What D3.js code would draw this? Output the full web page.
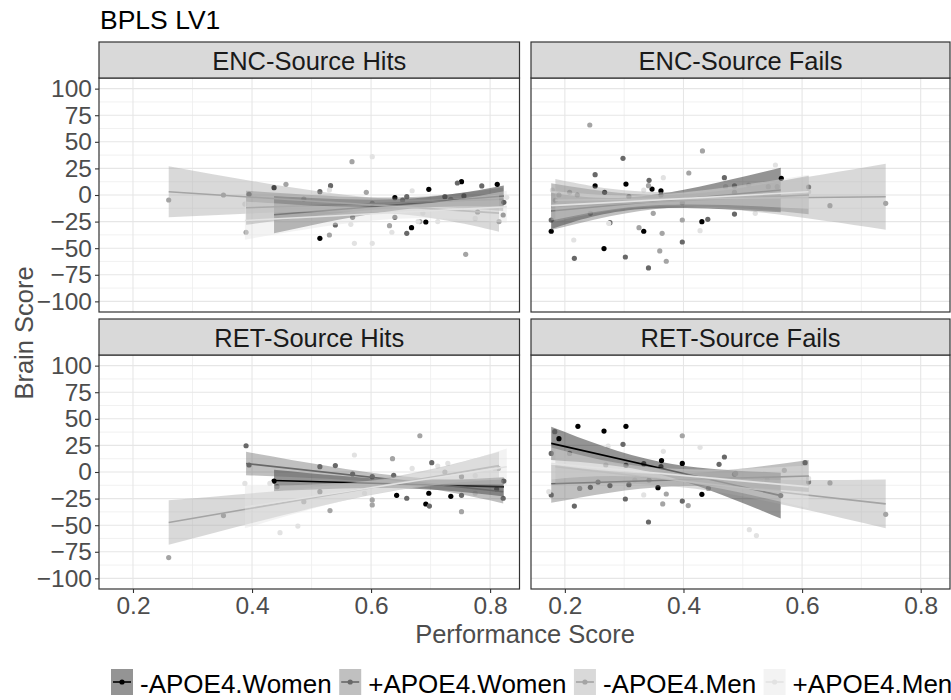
<!DOCTYPE html>
<html><head><meta charset="utf-8">
<script src="https://cdn.jsdelivr.net/npm/d3@7"></script>
<style>body{margin:0;background:#fff}svg{display:block}text{font-family:"Liberation Sans",Arial,sans-serif}</style>
</head><body><svg id="c" width="951" height="700"></svg>
<script>
// ---------------- DATA ----------------
const groups = ['-APOE4.Women','+APOE4.Women','-APOE4.Men','+APOE4.Men'];
const panelTitles = ['ENC-Source Hits','ENC-Source Fails','RET-Source Hits','RET-Source Fails'];
const xTicks = [0.2,0.4,0.6,0.8];
const yTicks = [-100,-75,-50,-25,0,25,50,75,100];

// points [performance, brain score]
const encHitsWNeg = [[0.437,6.9],[0.514,-40.7],[0.640,-2.5],[0.668,-30.7],[0.692,-25.4],[0.697,5.3],[0.752,12.5],[0.812,10.0],[0.823,-6.9]];
const encHitsWPos = [[0.395,0.6],[0.514,3.1],[0.532,8.8],[0.540,-28.2],[0.569,-21],[0.602,-7.8],[0.640,-21],[0.653,-4.7],[0.660,-1.6],[0.660,-36],[0.724,-1.6],[0.745,11.3],[0.756,-0.9],[0.779,-16],[0.786,8.5],[0.822,-18.8]];
const encHitsMNeg = [[0.260,-4.7],[0.352,0],[0.390,-35],[0.457,10],[0.487,-3.8],[0.530,-37.6],[0.568,31.3],[0.592,2.5],[0.631,-28.8],[0.682,-25],[0.734,-4.1],[0.759,-55.8],[0.815,-25]];
const encHitsMPos = [[0.388,-8.5],[0.530,4.7],[0.566,-27.6],[0.572,-45.4],[0.602,36],[0.602,-45.4],[0.635,-35],[0.669,4],[0.679,-25],[0.687,-17],[0.712,-25],[0.775,-22],[0.828,-2.2]];

const encFailsWNeg = [[0.177,-34.1],[0.251,8.5],[0.266,-50.4],[0.267,2.5],[0.303,10.3],[0.333,-34.1],[0.347,5.6],[0.362,3.8],[0.431,-25.1],[0.565,15.7]];
const encFailsWPos = [[0.177,-23.5],[0.190,0],[0.216,-59.5],[0.221,0],[0.251,19.1],[0.276,-26],[0.298,34.5],[0.302,-58.3],[0.308,-1.6],[0.341,-68.6],[0.342,13.8],[0.362,0],[0.398,-44.2],[0.398,-7.2],[0.441,-22.9],[0.469,16.3],[0.486,-17.9],[0.486,2.5],[0.611,7.5]];
const encFailsMNeg = [[0.184,-5],[0.208,2.5],[0.242,65.8],[0.243,-17.2],[0.325,-30.7],[0.341,8.8],[0.349,-17.2],[0.360,-52.6],[0.364,-36],[0.371,-62.3],[0.398,-23.5],[0.409,20.7],[0.432,41.4],[0.486,8.5],[0.543,7.8],[0.558,7.8],[0.647,-10],[0.741,-7.8]];
const encFailsMPos = [[0.179,4.7],[0.215,-42.3],[0.274,-26.6],[0.333,4.7],[0.366,16.3],[0.428,-33.5],[0.471,7.8],[0.510,9.4],[0.521,-17.2],[0.555,28.2],[0.611,3]];

const retHitsWNeg = [[0.437,-8.5],[0.643,-21.9],[0.692,-30.1],[0.697,-20],[0.734,-22.9],[0.823,-8.5]];
const retHitsWPos = [[0.390,24.7],[0.395,6.6],[0.514,5],[0.514,-18.5],[0.540,6],[0.569,-1.9],[0.602,-4.4],[0.638,-3.1],[0.660,-24.7],[0.698,-32],[0.702,8.8],[0.752,-4.4],[0.752,-21.9],[0.811,-16],[0.822,-24.7]];
const retHitsMNeg = [[0.260,-80.5],[0.352,-41],[0.442,-13.8],[0.487,-27.9],[0.531,-36.3],[0.602,-26.3],[0.602,-31],[0.636,12.5],[0.682,34.1],[0.724,0],[0.752,-37.3],[0.814,3.4]];
const retHitsMPos = [[0.388,-10.7],[0.430,-10.7],[0.447,-57],[0.477,-50.8],[0.572,16],[0.589,-20],[0.669,3.4],[0.712,5.6],[0.729,8.1],[0.775,-3.4],[0.775,-20],[0.808,3.4]];

const retFailsWNeg = [[0.190,31.3],[0.222,42.9],[0.266,38.5],[0.303,42.9],[0.357,-14.7],[0.363,10.7],[0.398,8.1],[0.431,-21],[0.564,-22.2]];
const retFailsWPos = [[0.177,17.5],[0.177,-21.6],[0.216,-32],[0.243,-14.4],[0.256,-9.4],[0.276,-12.8],[0.298,26],[0.302,-25.4],[0.303,6.3],[0.308,-11.9],[0.333,7.8],[0.341,-47],[0.362,5],[0.398,-27.3],[0.460,7.2],[0.469,14.1],[0.486,-2.2],[0.605,8.8],[0.611,-9.4]];
const retFailsMNeg = [[0.183,37.9],[0.208,17.5],[0.225,-15.4],[0.269,6.6],[0.342,-7.5],[0.365,-30],[0.371,-20.7],[0.398,34.1],[0.408,-31.6],[0.442,-15.4],[0.488,-1.3],[0.570,1.6],[0.647,-10.3],[0.741,-39.8]];
const retFailsMPos = [[0.173,-18.5],[0.273,24.4],[0.318,-7.5],[0.333,-21.6],[0.366,19.4],[0.428,23.2],[0.511,-54.2],[0.523,-59.8],[0.541,-7.5],[0.611,-6]];

// linear fits: [performance, fitted score, CI half-width]
const encHitsFitWNeg = [[0.437,-18.5,17.5],[0.65,-8.8,5],[0.823,-1,10]];
const encHitsFitWPos = [[0.390,-12,16],[0.64,-7.4,5],[0.822,-4,11]];
const encHitsFitMNeg = [[0.260,3,24],[0.60,-9.3,7],[0.815,-17,17.5]];
const encHitsFitMPos = [[0.388,-24,18],[0.63,-16.8,6],[0.828,-11,15]];
const encFailsFitWNeg = [[0.177,-15,17],[0.33,-7.2,6],[0.564,4.7,21]];
const encFailsFitWPos = [[0.177,-11,22],[0.38,-5.9,6],[0.611,0,18]];
const encFailsFitMNeg = [[0.184,-5,20],[0.40,-3.7,7],[0.741,-1.6,31]];
const encFailsFitMPos = [[0.177,-10,14],[0.36,-4.5,5],[0.611,3,16]];
const retHitsFitWNeg = [[0.437,-8,10],[0.65,-11.3,4],[0.823,-14,9]];
const retHitsFitWPos = [[0.390,8,11],[0.64,-7.3,4],[0.822,-18.5,11]];
const retHitsFitMNeg = [[0.260,-47.5,21],[0.60,-14.7,7],[0.815,6,13]];
const retHitsFitMPos = [[0.388,-33,20],[0.63,-12.1,6],[0.828,5,17]];
const retFailsFitWNeg = [[0.177,26.9,15.7],[0.36,3.7,6],[0.564,-22.2,21.6]];
const retFailsFitWPos = [[0.177,-11,18],[0.38,-7.6,6],[0.611,-3.7,15]];
const retFailsFitMNeg = [[0.184,5,17],[0.42,-9.8,6],[0.741,-30,23]];
const retFailsFitMPos = [[0.177,8,15],[0.36,-1.3,5],[0.611,-14,20]];

const panelPoints = [
  [encHitsWNeg,encHitsWPos,encHitsMNeg,encHitsMPos],
  [encFailsWNeg,encFailsWPos,encFailsMNeg,encFailsMPos],
  [retHitsWNeg,retHitsWPos,retHitsMNeg,retHitsMPos],
  [retFailsWNeg,retFailsWPos,retFailsMNeg,retFailsMPos]];
const panelFits = [
  [encHitsFitWNeg,encHitsFitWPos,encHitsFitMNeg,encHitsFitMPos],
  [encFailsFitWNeg,encFailsFitWPos,encFailsFitMNeg,encFailsFitMPos],
  [retHitsFitWNeg,retHitsFitWPos,retHitsFitMNeg,retHitsFitMPos],
  [retFailsFitWNeg,retFailsFitWPos,retFailsFitMNeg,retFailsFitMPos]];

// ---------------- STYLE / LAYOUT ----------------
const colors = ['#000000','#686868','#a4a4a4','#e2e2e2'];
const ribbonOpacity = 0.42;
const cols = [[99,519.5],[531,950]];
const rows = [{s:42,t:78,b:312},{s:319,t:355,b:589}];
const xDomain = [0.1429,0.8494];
const yDomain = [-110,110];

const svg = d3.select('#c');
const defs = svg.append('defs');

svg.append('text').attr('x',100).attr('y',29).attr('font-size',26.5).attr('fill','#000').text('BPLS LV1');

panelTitles.forEach((title,pi)=>{
  const c = pi%2, r = Math.floor(pi/2);
  const [x0,x1] = cols[c]; const R = rows[r];
  const x = d3.scaleLinear().domain(xDomain).range([x0,x1]);
  const y = d3.scaleLinear().domain(yDomain).range([R.b,R.t]);
  const g = svg.append('g');
  g.append('rect').attr('x',x0).attr('y',R.t).attr('width',x1-x0).attr('height',R.b-R.t).attr('fill','#fff');
  const minorX = [0.3,0.5,0.7], minorY = d3.range(-87.5,100,25);
  g.selectAll('.mx').data(minorX).join('line').attr('x1',d=>x(d)).attr('x2',d=>x(d)).attr('y1',R.t).attr('y2',R.b).attr('stroke','#efefef').attr('stroke-width',0.9);
  g.selectAll('.my').data(minorY).join('line').attr('y1',d=>y(d)).attr('y2',d=>y(d)).attr('x1',x0).attr('x2',x1).attr('stroke','#efefef').attr('stroke-width',0.9);
  g.selectAll('.gx').data(xTicks).join('line').attr('x1',d=>x(d)).attr('x2',d=>x(d)).attr('y1',R.t).attr('y2',R.b).attr('stroke','#e6e6e6').attr('stroke-width',1.1);
  g.selectAll('.gy').data(yTicks).join('line').attr('y1',d=>y(d)).attr('y2',d=>y(d)).attr('x1',x0).attr('x2',x1).attr('stroke','#e6e6e6').attr('stroke-width',1.1);

  const cid = 'clip'+pi;
  defs.append('clipPath').attr('id',cid).append('rect').attr('x',x0).attr('y',R.t).attr('width',x1-x0).attr('height',R.b-R.t);
  const m = g.append('g').attr('clip-path',`url(#${cid})`);
  panelPoints[pi].forEach((pts,gi)=>{
    m.selectAll(null).data(pts).join('circle').attr('cx',d=>x(d[0])).attr('cy',d=>y(d[1])).attr('r',2.6).attr('fill',colors[gi]);
  });
  const area = d3.area().x(d=>x(d[0])).y0(d=>y(d[1]-d[2])).y1(d=>y(d[1]+d[2])).curve(d3.curveNatural);
  panelFits[pi].forEach((f,gi)=>{
    m.append('path').attr('d',area(f)).attr('fill',colors[gi]).attr('fill-opacity',ribbonOpacity);
    const ends = [f[0], f[f.length-1]];
    m.append('path').attr('d',d3.line().x(d=>x(d[0])).y(d=>y(d[1]))(ends)).attr('stroke',colors[gi]).attr('stroke-width',1.6).attr('fill','none');
  });
  g.append('rect').attr('x',x0).attr('y',R.t).attr('width',x1-x0).attr('height',R.b-R.t).attr('fill','none').attr('stroke','#333').attr('stroke-width',1.2);
  g.append('rect').attr('x',x0).attr('y',R.s).attr('width',x1-x0).attr('height',R.t-R.s).attr('fill','#d9d9d9').attr('stroke','#333').attr('stroke-width',1.2);
  g.append('text').attr('x',(x0+x1)/2).attr('y',R.t-8).attr('text-anchor','middle').attr('font-size',25.5).attr('fill','#1a1a1a').text(title);

  if(c===0){
    const ya = g.append('g').attr('transform',`translate(${x0},0)`).call(d3.axisLeft(y).tickValues(yTicks).tickSize(4).tickPadding(3));
    ya.select('.domain').remove();
    ya.selectAll('line').attr('stroke','#333').attr('stroke-width',1.1);
    ya.selectAll('text').attr('font-size',24.5).attr('fill','#4d4d4d').attr('font-family','"Liberation Sans",Arial,sans-serif');
  }
  if(r===1){
    const xa = g.append('g').attr('transform',`translate(0,${R.b})`).call(d3.axisBottom(x).tickValues(xTicks).tickFormat(d3.format('.1f')).tickSize(4).tickPadding(4));
    xa.select('.domain').remove();
    xa.selectAll('line').attr('stroke','#333').attr('stroke-width',1.1);
    xa.selectAll('text').attr('font-size',24.5).attr('fill','#4d4d4d').attr('font-family','"Liberation Sans",Arial,sans-serif');
  }
});

svg.append('text').attr('x',525).attr('y',643).attr('text-anchor','middle').attr('font-size',25.5).attr('fill','#4d4d4d').text('Performance Score');
svg.append('text').attr('transform','translate(33,333) rotate(-90)').attr('text-anchor','middle').attr('font-size',25.5).attr('fill','#4d4d4d').text('Brain Score');

let lx = 111; const ly = 669, kw = 22, kh = 26;
groups.forEach((name,gi)=>{
  const lg = svg.append('g');
  lg.append('rect').attr('x',lx).attr('y',ly).attr('width',kw).attr('height',kh).attr('fill','#fff');
  lg.append('rect').attr('x',lx).attr('y',ly).attr('width',kw).attr('height',kh).attr('fill',colors[gi]).attr('fill-opacity',ribbonOpacity);
  lg.append('line').attr('x1',lx+2).attr('x2',lx+kw-2).attr('y1',ly+kh/2).attr('y2',ly+kh/2).attr('stroke',colors[gi]).attr('stroke-width',1.6);
  lg.append('circle').attr('cx',lx+kw/2).attr('cy',ly+kh/2).attr('r',2.6).attr('fill',colors[gi]);
  const t = lg.append('text').attr('x',lx+kw+7).attr('y',ly+24).attr('font-size',26).attr('fill','#000').text(name);
  lx += kw + 7 + t.node().getComputedTextLength() + 7.5;
});
</script></body></html>
